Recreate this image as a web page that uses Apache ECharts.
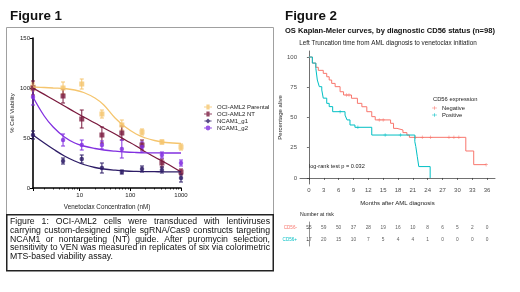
<!DOCTYPE html>
<html><head><meta charset="utf-8">
<script src="https://cdn.jsdelivr.net/npm/echarts@6/dist/echarts.min.js"></script>
<style>html,body{margin:0;padding:0;background:#fff}#c{width:520px;height:292px}</style>
</head><body><div id="c"></div><script>
const FONT = 'Liberation Sans, Arial, sans-serif';

// ---------- Figure 1 data ----------
const conc = [1.2, 4.7, 11, 27.5, 68, 170, 420, 1000];
const parentalVals = [101, 100, 104, 74, 63, 56, 46, 41];
const parentalErr  = [4, 6, 5, 4, 5, 3, 2, 3];
const ntVals = [100, 92, 69, 53, 55, 43, 25, 16];
const ntErr  = [7, 7, 9, 8, 7, 5, 4, 3];
const g1Vals = [53, 27, 29, 20, 16, 19, 18, 10];
const g1Err  = [4, 3, 4, 5, 2, 3, 3, 4];
const g2Vals = [91, 48, 43, 43, 39, 41, 33, 25];
const g2Err  = [8, 6, 5, 4, 9, 5, 3, 3];
const fitConc     = [1.2, 2, 3, 5, 8, 12, 20, 30, 50, 80, 130, 200, 300, 500, 1000];
const parentalFit = [101, 100.5, 100, 99.5, 98, 95.5, 90, 83, 70, 61, 54, 50, 47.5, 45.5, 44.5];
const ntFit       = [100, 93.6, 88.5, 82, 76, 71, 65, 60, 54, 48, 42, 36, 31, 25, 16];
const g1Fit       = [53, 45, 39, 32, 27, 23.5, 20.5, 19, 17.8, 17, 16.6, 16.4, 16.3, 16.2, 16.2];
const g2Fit       = [91, 72, 61, 51, 45, 42, 39.5, 38, 36.8, 36, 35.5, 35.2, 35.1, 35, 35];
const viabilityTicks = [0, 50, 100, 150];

// ---------- Figure 2 data ----------
const monthTicks = [0, 3, 6, 9, 12, 15, 18, 21, 24, 27, 30, 33, 36];
const pctTicks = [0, 25, 50, 75, 100];
const negTimes = [0, 0.7, 1.4, 1.9, 2.9, 3.6, 4.1, 4.6, 5.3, 6.3, 7.0, 8.6, 9.8, 10.7, 11.7, 12.7, 13.4, 16.5, 17.1, 17.8, 19.0, 19.8, 20.3, 31.7, 33.3, 35.8];
const negSurv  = [100, 95, 91.5, 89, 86.5, 83.7, 81, 78.2, 75.5, 71.3, 68.6, 65.9, 61.7, 58.9, 54.8, 50.7, 48, 45.2, 41, 39.7, 37.5, 35.5, 33.6, 22.3, 11, 11];
const posTimes = [0, 0.7, 1.4, 1.7, 2.1, 2.6, 2.9, 3.6, 4.1, 4.8, 7.3, 7.7, 8.3, 9.3, 12.7, 21.4, 21.6, 21.9, 22.2, 24.5];
const posSurv  = [100, 95, 90.6, 81, 75.5, 72.7, 66, 61.7, 59, 54.8, 52, 48, 43.8, 41.9, 35.5, 30, 26, 17.6, 9.4, 0];
const negCensorT = [7.6, 8.1, 14.2, 15.0, 21.5, 22.9, 24.6, 28.3, 29.3, 30.3, 35.8];
const negCensorS = [68.6, 68.6, 48, 48, 33.6, 33.6, 33.6, 33.6, 33.6, 33.6, 11];
const posCensorT = [6.3, 9.9, 15.4, 18.5];
const posCensorS = [54.8, 41.9, 35.5, 35.5];
const riskGroups = ['CD56+', 'CD56-'];
const riskNeg = [55, 59, 50, 37, 28, 19, 16, 10, 8, 6, 5, 2, 0];
const riskPos = [17, 20, 15, 10, 7, 5, 4, 4, 1, 0, 0, 0, 0];

const captionLines = [
  'Figure 1: OCI-AML2 cells were transduced with lentiviruses',
  'carrying custom-designed single sgRNA/Cas9 constructs targeting',
  'NCAM1 or nontargeting (NT) guide. After puromycin selection,',
  'sensitivity to VEN was measured in replicates of six via colorimetric',
  'MTS-based viability assay.'
];

// ---------- helpers ----------
const C = {par:'#F5C56E', nt:'#7A1A3E', g1:'#2D1C66', g2:'#8230E0', neg:'#F8766D', pos:'#00BFC4'};
const ctx = document.createElement('canvas').getContext('2d');
function textW(t, size, weight){ ctx.font = (weight||'normal') + ' ' + size + 'px "Liberation Sans"'; return ctx.measureText(t).width; }
function fitSize(t, target, weight){ return 10 * target / textW(t, 10, weight); }
function txt(text, x, y, size, opts){
  opts = opts || {};
  return {type:'text', silent:true, style:{text:text, x:x, y:y, fontSize:size, fontFamily:FONT,
    fontWeight:opts.weight||'normal', fill:opts.color||'#111',
    align:opts.align||'left', textAlign:opts.align||'left', verticalAlign:'middle', textVerticalAlign:'middle'}};
}
function errData(vals, errs){ return conc.map((c,i)=>[c, vals[i]-errs[i], vals[i]+errs[i]]); }
function errRender(color){
  return function(params, api){
    const x = api.value(0), lo = api.value(1), hi = api.value(2);
    const a = api.coord([x, hi]), b = api.coord([x, lo]);
    const w = 2, st = {stroke:color, lineWidth:1};
    return {type:'group', children:[
      {type:'line', shape:{x1:a[0], y1:a[1], x2:b[0], y2:b[1]}, style:st},
      {type:'line', shape:{x1:a[0]-w, y1:a[1], x2:a[0]+w, y2:a[1]}, style:st},
      {type:'line', shape:{x1:b[0]-w, y1:b[1], x2:b[0]+w, y2:b[1]}, style:st}
    ]};
  };
}
const groups = [
  {name:'OCI-AML2 Parental', color:C.par, vals:parentalVals, errs:parentalErr, fit:parentalFit, symbol:'rect', size:5,
   icon:'path://M0,4.4H10V5.6H0Z M3,2H7V8H3Z'},
  {name:'OCI-AML2 NT', color:C.nt, vals:ntVals, errs:ntErr, fit:ntFit, symbol:'rect', size:5,
   icon:'path://M0,4.4H10V5.6H0Z M3,2H7V8H3Z'},
  {name:'NCAM1_g1', color:C.g1, vals:g1Vals, errs:g1Err, fit:g1Fit, symbol:'circle', size:4.5,
   icon:'path://M0,4.4H10V5.6H0Z M5,1.5L8.5,5L5,8.5L1.5,5Z'},
  {name:'NCAM1_g2', color:C.g2, vals:g2Vals, errs:g2Err, fit:g2Fit, symbol:'circle', size:4.5,
   icon:'path://M0,4.4H10V5.6H0Z M5,2A3,3,0,1,1,4.99,2Z'}
];

const series = [];
groups.forEach(g => {
  series.push({type:'scatter', name:g.name, xAxisIndex:0, yAxisIndex:0, symbol:g.symbol, symbolSize:g.size,
    itemStyle:{color:g.color}, data:conc.map((c,i)=>[c, g.vals[i]]), z:3});
  series.push({type:'custom', name:g.name, xAxisIndex:0, yAxisIndex:0, renderItem:errRender(g.color),
    encode:{x:0, y:[1,2]}, data:errData(g.vals, g.errs), z:2});
  series.push({type:'line', name:g.name, xAxisIndex:0, yAxisIndex:0, smooth:0.4, showSymbol:false, symbol:'none',
    lineStyle:{color:g.color, width:1.3}, itemStyle:{color:g.color}, data:fitConc.map((c,i)=>[c, g.fit[i]]), z:4});
});
series.push({type:'line', name:'Negative', xAxisIndex:1, yAxisIndex:1, step:'end', showSymbol:false, symbol:'none',
  lineStyle:{color:C.neg, width:1}, itemStyle:{color:C.neg}, data:negTimes.map((t,i)=>[t, negSurv[i]])});
series.push({type:'line', name:'Positive', xAxisIndex:1, yAxisIndex:1, step:'end', showSymbol:false, symbol:'none',
  lineStyle:{color:C.pos, width:1}, itemStyle:{color:C.pos}, data:posTimes.map((t,i)=>[t, posSurv[i]])});
const plus = 'path://M-0.18,-1H0.18V-0.18H1V0.18H0.18V1H-0.18V0.18H-1V-0.18H-0.18Z';
series.push({type:'scatter', name:'Negative', xAxisIndex:1, yAxisIndex:1, symbol:plus, symbolSize:3.5,
  itemStyle:{color:C.neg}, data:negCensorT.map((t,i)=>[t, negCensorS[i]])});
series.push({type:'scatter', name:'Positive', xAxisIndex:1, yAxisIndex:1, symbol:plus, symbolSize:3.5,
  itemStyle:{color:C.pos}, data:posCensorT.map((t,i)=>[t, posCensorS[i]])});
[['CD56-', riskNeg], ['CD56+', riskPos]].forEach(([grp, arr]) => {
  series.push({type:'scatter', name:'risk '+grp, xAxisIndex:2, yAxisIndex:2, symbolSize:0.1,
    itemStyle:{color:'transparent'},
    label:{show:true, position:'inside', formatter:p=>String(p.value[2]), fontSize:4.8, color:'#333', fontFamily:FONT},
    data:monthTicks.map((t,i)=>[t, grp, arr[i]])});
});

// ---------- graphic texts ----------
const graphic = [];
graphic.push({type:'rect', silent:true, shape:{x:6.5, y:27.5, width:267, height:187}, style:{fill:'none', stroke:'#a0a0a0', lineWidth:1}});
graphic.push({type:'rect', silent:true, shape:{x:6.75, y:214.75, width:266.5, height:56}, style:{fill:'none', stroke:'#222', lineWidth:1.5}});
graphic.push(txt('Figure 1', 10, 16, fitSize('Figure 1', 52, 'bold'), {weight:'bold'}));
graphic.push(txt('Figure 2', 285, 16, fitSize('Figure 2', 52, 'bold'), {weight:'bold'}));
const sub = 'OS Kaplan-Meier curves, by diagnostic CD56 status (n=98)';
graphic.push(txt(sub, 285, 31, fitSize(sub, 210, 'bold'), {weight:'bold'}));
const sub2 = 'Left Truncation time from AML diagnosis to venetoclax initiation';
graphic.push(txt(sub2, 388, 43, fitSize(sub2, 178), {align:'center', color:'#222'}));
graphic.push(txt('log-rank test p = 0.032', 309, 166, 5.6, {color:'#222'}));
graphic.push(txt('CD56 expression', 433, 99, 5.8, {color:'#222'}));
graphic.push(txt('Number at risk', 300, 215, 5.2, {color:'#222'}));
const capSize = fitSize(captionLines[3], 259);
captionLines.forEach((line, li) => {
  const y = 222 + li * 8.6;
  if (li === captionLines.length - 1) { graphic.push(txt(line, 10, y, capSize)); return; }
  const words = line.split(' ');
  const ws = words.map(w => textW(w, capSize));
  const gap = (260 - ws.reduce((a,b)=>a+b, 0)) / (words.length - 1);
  let x = 10;
  words.forEach((w, i) => { graphic.push(txt(w, x, y, capSize)); x += ws[i] + gap; });
});

const axisTxt = {fontSize:6, color:'#222', fontFamily:FONT};
const option = {
  animation:false,
  backgroundColor:'#fff',
  grid:[
    {left:33, top:38, width:148, height:150, containLabel:false, outerBoundsMode:'none'},
    {left:300, top:51, width:195, height:133, containLabel:false, outerBoundsMode:'none'},
    {left:300, top:222, width:195, height:24, containLabel:false, outerBoundsMode:'none'}
  ],
  xAxis:[
    {gridIndex:0, type:'log', logBase:10, min:1.2, max:1000,
     axisLine:{show:true, lineStyle:{color:'#000', width:1.6}},
     axisTick:{show:true, length:3, lineStyle:{color:'#000', width:1}},
     minorTick:{show:true, splitNumber:9, length:1.5, lineStyle:{color:'#000', width:0.8}},
     axisLabel:Object.assign({showMinLabel:false, margin:4, formatter:v => String(Math.round(v))}, axisTxt), splitLine:{show:false},
     name:'Venetoclax Concentration (nM)', nameLocation:'middle', nameGap:16,
     nameTextStyle:{fontSize:6.3, color:'#222', fontFamily:FONT}},
    {gridIndex:1, type:'value', min:-1.8, max:37.6,
     axisLine:{show:true, lineStyle:{color:'#333', width:0.7}},
     axisTick:{show:true, length:2, customValues:monthTicks, lineStyle:{color:'#333', width:0.7}},
     axisLabel:{customValues:monthTicks, margin:3, color:'#4d4d4d', fontSize:6, fontFamily:FONT},
     splitLine:{show:false},
     name:'Months after AML diagnosis', nameLocation:'middle', nameGap:16,
     nameTextStyle:{fontSize:6, color:'#222', fontFamily:FONT}},
    {gridIndex:2, type:'value', min:-1.8, max:37.6, show:false}
  ],
  yAxis:[
    {gridIndex:0, type:'value', min:0, max:150, interval:50,
     axisLine:{show:true, lineStyle:{color:'#000', width:1.6}},
     axisTick:{show:true, length:3, lineStyle:{color:'#000', width:1}},
     axisLabel:Object.assign({margin:3}, axisTxt), splitLine:{show:false},
     name:'% Cell Viability', nameLocation:'middle', nameGap:18, nameRotate:90,
     nameTextStyle:{fontSize:6, color:'#222', fontFamily:FONT}},
    {gridIndex:1, type:'value', min:-5, max:105,
     axisLine:{show:true, lineStyle:{color:'#333', width:0.7}},
     axisTick:{show:true, length:2, customValues:pctTicks, lineStyle:{color:'#333', width:0.7}},
     axisLabel:{customValues:pctTicks, margin:3, color:'#4d4d4d', fontSize:6, fontFamily:FONT},
     splitLine:{show:false},
     name:'Percentage alive', nameLocation:'middle', nameGap:15, nameRotate:90,
     nameTextStyle:{fontSize:6, color:'#222', fontFamily:FONT}},
    {gridIndex:2, type:'category', data:riskGroups,
     axisLine:{show:true, lineStyle:{color:'#777', width:0.8}},
     axisTick:{show:true, length:2, alignWithLabel:true, lineStyle:{width:0.6}},
     axisLabel:{margin:3, fontSize:4.6, fontFamily:FONT, color:v => v === 'CD56-' ? C.neg : C.pos},
     splitLine:{show:false}}
  ],
  legend:[
    {left:204, top:103.5, orient:'vertical', itemGap:0, itemWidth:8, itemHeight:5, padding:0, selectedMode:false,
     textStyle:{fontSize:6, color:'#222', fontFamily:FONT, lineHeight:7},
     data:groups.map(g => ({name:g.name, icon:g.icon}))},
    {left:432, top:104.5, orient:'vertical', itemGap:0, itemWidth:5, itemHeight:5, padding:0, selectedMode:false,
     textStyle:{fontSize:5.8, color:'#222', fontFamily:FONT, lineHeight:7},
     data:[{name:'Negative', icon:'path://M0,4.5H10V5.5H0Z M4.4,1.5H5.6V8.5H4.4Z'},
           {name:'Positive', icon:'path://M0,4.5H10V5.5H0Z M4.4,1.5H5.6V8.5H4.4Z'}]}
  ],
  graphic:graphic,
  series:series
};
const chart = echarts.init(document.getElementById('c'), null, {renderer:'canvas'});
chart.setOption(option);
</script></body></html>
